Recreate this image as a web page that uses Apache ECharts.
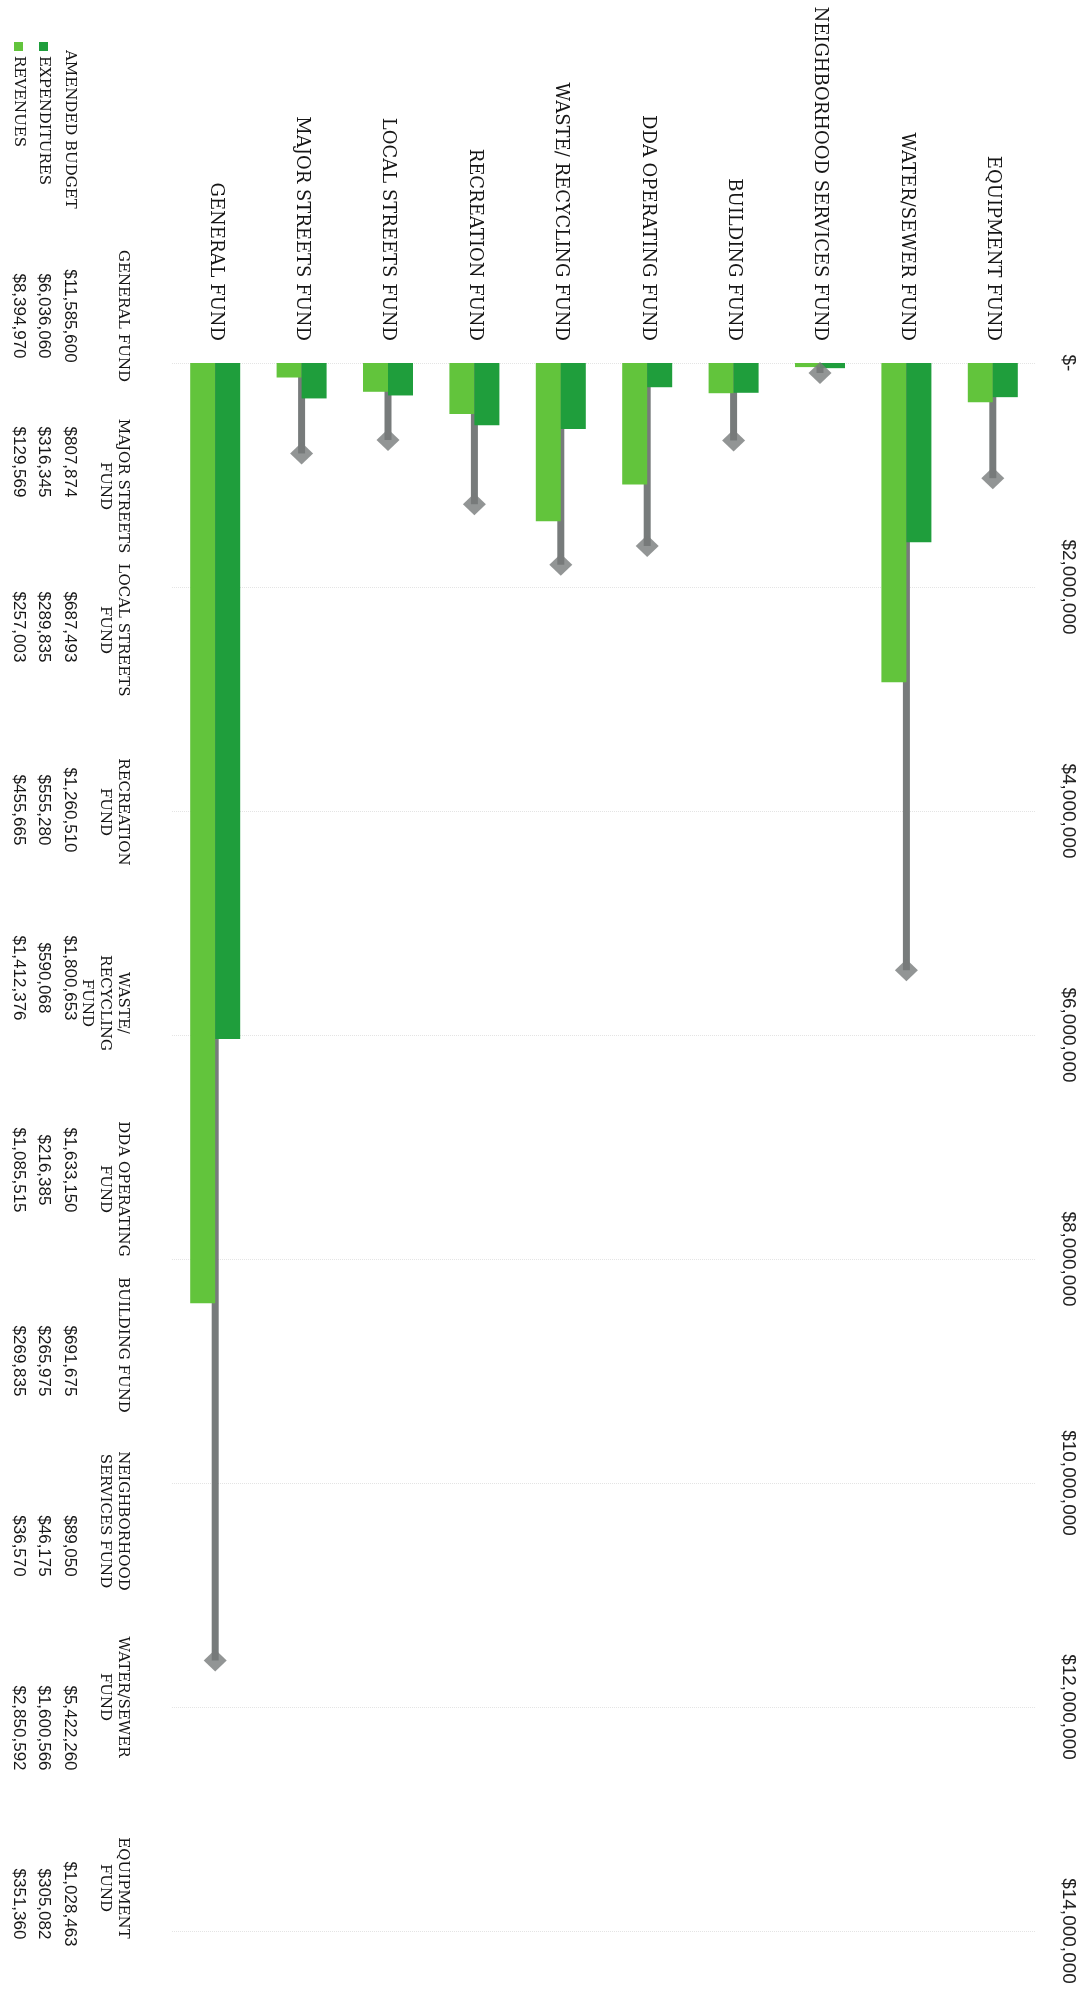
<!DOCTYPE html>
<html>
<head>
<meta charset="utf-8">
<script src="https://cdn.jsdelivr.net/npm/echarts@6/dist/echarts.min.js"></script>
<style>
html,body{margin:0;padding:0;background:#fff;}
#chart{width:1087px;height:1996px;}
</style>
</head>
<body>
<div id="chart"></div>
<script>
// ---- data ----
const funds = ["GENERAL FUND","MAJOR STREETS FUND","LOCAL STREETS FUND","RECREATION FUND","WASTE/ RECYCLING FUND","DDA OPERATING FUND","BUILDING FUND","NEIGHBORHOOD SERVICES FUND","WATER/SEWER FUND","EQUIPMENT FUND"];
const tableHeaders = ["GENERAL FUND","MAJOR STREETS\nFUND","LOCAL STREETS\nFUND","RECREATION\nFUND","WASTE/\nRECYCLING\nFUND","DDA OPERATING\nFUND","BUILDING FUND","NEIGHBORHOOD\nSERVICES FUND","WATER/SEWER\nFUND","EQUIPMENT\nFUND"];
const amendedBudget = [11585600, 807874, 687493, 1260510, 1800653, 1633150, 691675, 89050, 5422260, 1028463];
const expenditures = [6036060, 316345, 289835, 555280, 590068, 216385, 265975, 46175, 1600566, 305082];
const revenues = [8394970, 129569, 257003, 455665, 1412376, 1085515, 269835, 36570, 2850592, 351360];
const rowLabels = ["AMENDED BUDGET","EXPENDITURES","REVENUES"];
const axisMin = 0, axisMax = 14000000, axisStep = 2000000;

// ---- styles / layout ----
const C_REV = '#62c43c', C_EXP = '#1f9e3c', C_BUD = '#777b7b';
const SERIF = '"DejaVu Serif", serif';
const SANS = '"Liberation Sans", Arial, sans-serif';
const fmt = v => '$' + v.toLocaleString('en-US');

// table positions (screen): header centres, value centres, row x
const headY = [316, 486, 630, 812, 1003, 1189, 1345, 1521, 1697, 1888];
const valY = [316, 462, 627, 810, 978, 1170, 1361, 1546, 1728, 1904];
const rowX = [70, 44, 19];
const headerX = 132;

const graphics = [];
const R = -Math.PI / 2;
tableHeaders.forEach((h, i) => {
  graphics.push({type:'text', x: headerX, y: headY[i], rotation: R,
    style:{text:h, font:'15px ' + SERIF, fill:'#161616', align:'center', verticalAlign:'top', lineHeight:18}});
});
const rows = [amendedBudget, expenditures, revenues];
rows.forEach((arr, r) => {
  arr.forEach((v, i) => {
    graphics.push({type:'text', x: rowX[r], y: valY[i], rotation: R,
      style:{text: fmt(v), font:'17px ' + SANS, fill:'#161616', align:'center', verticalAlign:'middle'}});
  });
  graphics.push({type:'text', x: rowX[r], y: r === 0 ? 50 : 56, rotation: R,
    style:{text: rowLabels[r], font:'15px ' + SERIF, fill:'#161616', align:'left', verticalAlign:'middle'}});
});
graphics.push({type:'rect', shape:{x: rowX[1]-5, y: 42, width: 9, height: 9}, style:{fill: C_EXP}});
graphics.push({type:'rect', shape:{x: rowX[2]-5, y: 42, width: 9, height: 9}, style:{fill: C_REV}});

const chart = echarts.init(document.getElementById('chart'));
chart.setOption({
  animation: false,
  backgroundColor: '#fff',
  grid: {left: 172, right: 51, top: 363, bottom: 65, containLabel: false},
  xAxis: [
    {type:'category', data: funds, position:'top',
      axisLine:{show:false}, axisTick:{show:false},
      axisLabel:{rotate:-90, interval:0, margin:22, color:'#161616', fontFamily: SERIF, fontSize:18}},
    {type:'category', data: funds, position:'top', show:false}
  ],
  yAxis: {type:'value', inverse:true, position:'right', min: axisMin, max: axisMax, interval: axisStep,
    axisLine:{show:false}, axisTick:{show:false},
    splitLine:{show:true, lineStyle:{color:'#e4e4e4', type:'dotted', width:1}},
    axisLabel:{rotate:-90, margin:23, color:'#222', fontFamily: SANS, fontSize:19,
      formatter: v => v === 0 ? '$-' : fmt(v)}},
  series: [
    {name:'AMENDED BUDGET', type:'bar', xAxisIndex:1, data: amendedBudget, barWidth:7,
      itemStyle:{color: C_BUD}, z:1},
    {name:'REVENUES', type:'bar', data: revenues, barWidth:25, barGap:'0%',
      itemStyle:{color: C_REV}, z:2},
    {name:'EXPENDITURES', type:'bar', data: expenditures, barWidth:25, barGap:'0%',
      itemStyle:{color: C_EXP}, z:2},
    {name:'AMENDED BUDGET', type:'scatter', xAxisIndex:1, data: amendedBudget, symbol:'diamond',
      symbolSize:[23,22], itemStyle:{color: C_BUD}, z:3}
  ],
  graphic: graphics
});
</script>
</body>
</html>
